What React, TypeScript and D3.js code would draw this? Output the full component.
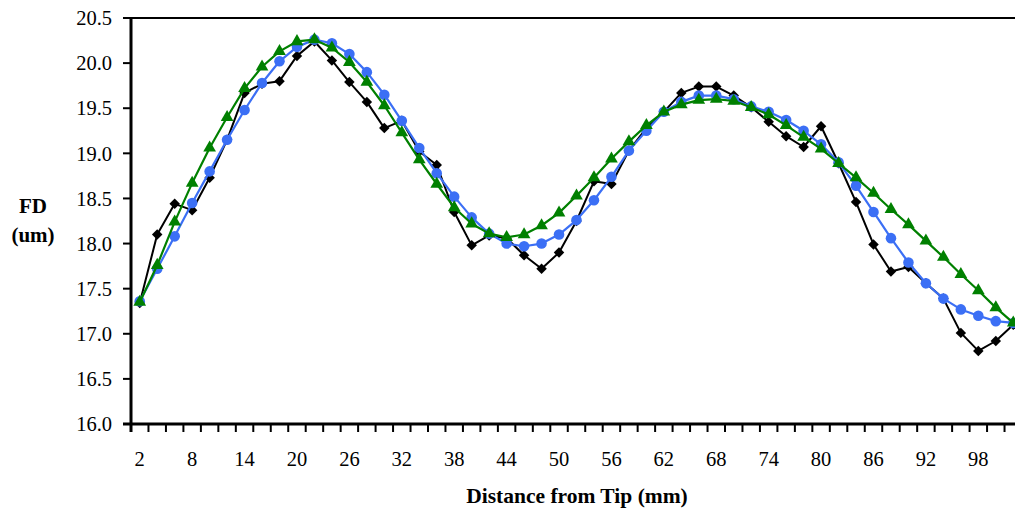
import React from 'react';
import * as d3 from 'd3';

// distance from tip (mm), one category per 2 mm
const distances = d3.range(2, 103, 2);

const seriesBlack = [
  17.34, 18.10, 18.44, 18.37, 18.73, 19.15, 19.67, 19.77, 19.80, 20.08,
  20.24, 20.03, 19.79, 19.57, 19.28, 19.36, 19.02, 18.87, 18.35, 17.98,
  18.09, 18.06, 17.87, 17.72, 17.90, 18.25, 18.69, 18.66, 19.03, 19.28,
  19.46, 19.67, 19.74, 19.74, 19.64, 19.51, 19.35, 19.19, 19.07, 19.30,
  18.89, 18.46, 17.99, 17.69, 17.74, 17.56, 17.39, 17.01, 16.81, 16.92,
  17.10,
];

const seriesBlue = [
  17.36, 17.72, 18.08, 18.45, 18.80, 19.15, 19.48, 19.78, 20.02, 20.18,
  20.26, 20.22, 20.10, 19.90, 19.65, 19.36, 19.06, 18.78, 18.52, 18.29,
  18.11, 18.00, 17.97, 18.00, 18.10, 18.26, 18.48, 18.74, 19.03, 19.25,
  19.46, 19.57, 19.64, 19.64, 19.60, 19.52, 19.46, 19.37, 19.25, 19.10,
  18.90, 18.64, 18.35, 18.06, 17.79, 17.56, 17.39, 17.27, 17.20, 17.14,
  17.12,
];

const seriesGreen = [
  17.35, 17.76, 18.24, 18.67, 19.06, 19.40, 19.72, 19.96, 20.13, 20.24,
  20.26, 20.17, 20.01, 19.79, 19.53, 19.23, 18.93, 18.66, 18.40, 18.22,
  18.11, 18.07, 18.10, 18.20, 18.34, 18.53, 18.73, 18.94, 19.13, 19.31,
  19.46, 19.54, 19.59, 19.60, 19.58, 19.51, 19.43, 19.31, 19.18, 19.05,
  18.89, 18.73, 18.56, 18.38, 18.21, 18.03, 17.85, 17.66, 17.48, 17.29,
  17.12,
];

const yTicks = d3.range(16, 20.51, 0.5);

const W = 1015, H = 509;
const left = 131, right = 1022, top = 18, bottom = 424;
const serif = '"Liberation Serif", "Times New Roman", serif';

export default function App() {
  const x = d3.scaleBand<number>().domain(distances).range([left, right]).padding(0);
  const y = d3.scaleLinear().domain([16, 20.5]).range([bottom, top]);
  const cx = (d: number) => (x(d) as number) + x.bandwidth() / 2;

  const line = d3.line<number>()
    .x((_, i) => cx(distances[i]))
    .y(v => y(v));

  const series = [
    { data: seriesBlack, color: '#000000', width: 2, symbol: d3.symbolSquare, size: 55, rotate: 45 },
    { data: seriesBlue, color: '#3b6ff5', width: 2.2, symbol: d3.symbolCircle, size: 88, rotate: 0 },
    { data: seriesGreen, color: '#008000', width: 2.2, symbol: d3.symbolTriangle, size: 70, rotate: 0 },
  ];

  const boundaries = distances.map(d => x(d) as number).concat([right]);

  return (
    <svg width={W} height={H} style={{ position: 'absolute', left: 0, top: 0, background: '#fff' }}>
      {/* frame */}
      <line x1={left} x2={W} y1={top} y2={top} stroke="#000" strokeWidth={2} />
      <line x1={left} x2={left} y1={top} y2={bottom + 8} stroke="#000" strokeWidth={3} />
      <line x1={left - 8} x2={W} y1={bottom} y2={bottom} stroke="#000" strokeWidth={3} />

      {/* y axis */}
      {yTicks.map(t => (
        <g key={t}>
          <line x1={left - 8} x2={left} y1={y(t)} y2={y(t)} stroke="#000" strokeWidth={2} />
          <text x={112} y={y(t)} dy="0.35em" textAnchor="end" fontFamily={serif} fontSize={20.5}>
            {d3.format('.1f')(t)}
          </text>
        </g>
      ))}

      {/* x axis ticks between categories */}
      {boundaries.map((b, i) => (
        <line key={i} x1={b} x2={b} y1={bottom} y2={bottom + 8} stroke="#000" strokeWidth={2} />
      ))}
      {distances.filter((_, i) => i % 3 === 0).map(d => (
        <text key={d} x={cx(d)} y={466} textAnchor="middle" fontFamily={serif} fontSize={20.5}>
          {d}
        </text>
      ))}

      {/* titles */}
      <text x={33} y={213} textAnchor="middle" fontFamily={serif} fontSize={21} fontWeight="bold">FD</text>
      <text x={33} y={242} textAnchor="middle" fontFamily={serif} fontSize={21} fontWeight="bold">(um)</text>
      <text x={577} y={503} textAnchor="middle" fontFamily={serif} fontSize={21.5} fontWeight="bold">
        Distance from Tip (mm)
      </text>

      {/* series */}
      {series.map((s, si) => {
        const sym = d3.symbol().type(s.symbol).size(s.size)();
        return (
          <g key={si}>
            <path d={line(s.data) || ''} fill="none" stroke={s.color} strokeWidth={s.width} strokeLinejoin="round" />
            {s.data.map((v, i) => (
              <path
                key={i}
                d={sym || ''}
                fill={s.color}
                transform={`translate(${cx(distances[i])},${y(v)}) rotate(${s.rotate})`}
              />
            ))}
          </g>
        );
      })}
    </svg>
  );
}
